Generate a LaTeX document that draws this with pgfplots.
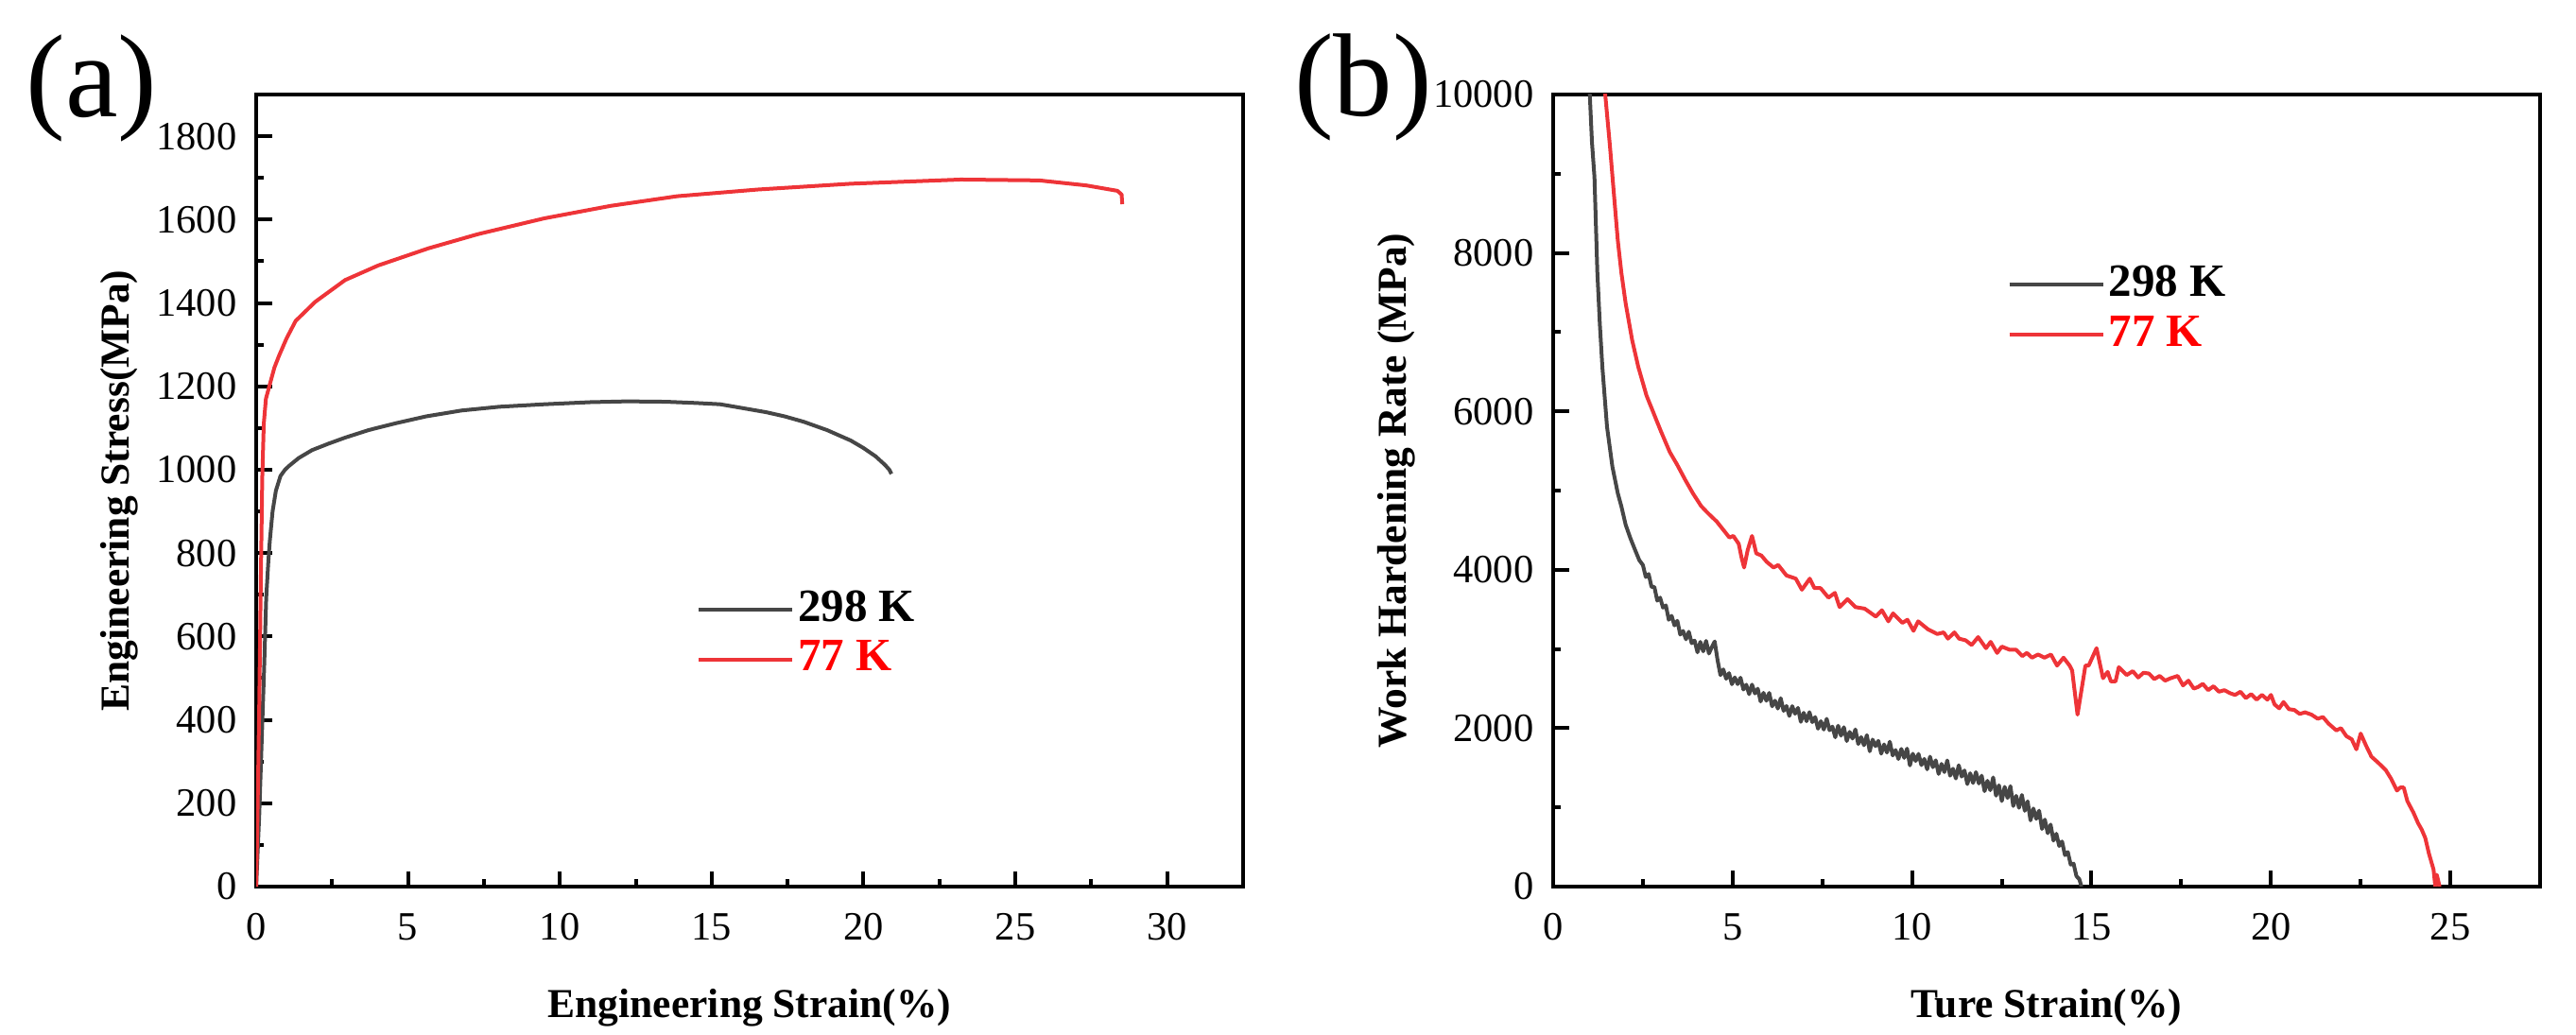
\documentclass[border=0pt]{standalone}
\usepackage{fontspec}
\setmainfont{Liberation Serif}
\usepackage{pgfplots}
\pgfplotsset{compat=1.18}
\definecolor{cgray}{RGB}{70,70,70}
\definecolor{cred}{RGB}{238,52,56}
\definecolor{tred}{RGB}{255,0,0}
\pgfplotsset{
  myaxis/.style={
    scale only axis, width=208.8pt, height=167.6pt,
    axis line style={line width=0.8pt},
    tick align=inside, xtick pos=bottom, ytick pos=left,
    major tick length=3.3pt, minor tick length=1.6pt,
    every tick/.style={black, line width=0.8pt},
    minor x tick num=1, minor y tick num=1,
    scaled ticks=false,
    tick label style={font=\fontsize{8.5}{10}\selectfont},
    /pgf/number format/assume math mode=true,
    /pgf/number format/1000 sep={},
    xticklabel style={yshift=-2.2pt},
    yticklabel style={xshift=-0.6pt},
    label style={font=\bfseries\fontsize{8.7}{10}\selectfont},
    xlabel style={yshift=-3.3pt},
    ylabel style={yshift=-3pt},
    legend style={draw=none, fill=none, font=\bfseries\fontsize{9.8}{11}\selectfont,
      inner sep=0pt, row sep=1pt, nodes={inner sep=0.8pt}},
    legend cell align=left,
    legend image code/.code={\draw[#1] (0pt,0pt) -- (19.8pt,0pt);},
    every axis plot/.append style={line width=0.8pt, line join=round},
  }
}
\begin{document}
\begin{tikzpicture}
\useasboundingbox (0,0) rectangle (545pt,219pt);
\node[font=\fontsize{25}{30}\selectfont, inner sep=0pt] at (19.4pt,200.3pt) {(a)};
\node[font=\fontsize{25}{30}\selectfont, inner sep=0pt] at (288.4pt,200.5pt) {(b)};
\begin{axis}[myaxis, at={(54.2pt,31.4pt)}, anchor=south west,
  xmin=0, xmax=32.5, ymin=0, ymax=1900,
  xtick distance=5, ytick distance=200,
  xlabel={Engineering Strain(\%)}, ylabel={Engineering Stress(MPa)},
  legend style={at={(rel axis cs:0.4454,0.3186)}, anchor=west}]
\addplot[cgray] coordinates {
(0,0) (0.1,170) (0.18,345) (0.26,520) (0.33,692) (0.4,780) (0.45,830) (0.54,900) (0.65,950) (0.8,985) (0.95,1000) (1.08,1009) (1.4,1028) (1.84,1047) (2.4,1063) (2.93,1077) (3.7,1095) (4.57,1111) (5.6,1128) (6.76,1142) (8,1151) (9.49,1157) (11,1162) (12.22,1164) (13.5,1163) (14.5,1160) (15.28,1157) (16,1148) (16.79,1138) (17.4,1128) (18.03,1115) (18.8,1095) (19.58,1070) (20.0,1052) (20.4,1032) (20.7,1012) (20.85,1000) (20.92,990)
};
\addlegendentry{298 K}
\addplot[cred] coordinates {
(0,0) (0.05,200) (0.1,430) (0.15,720) (0.2,980) (0.25,1110) (0.32,1170) (0.45,1205) (0.6,1245) (0.75,1273) (1.0,1315) (1.3,1357) (1.95,1403) (2.93,1455) (4.02,1490) (5.67,1531) (7.3,1565) (9.49,1603) (11.68,1633) (13.86,1656) (16.5,1672) (19.58,1686) (23.2,1696) (25.78,1694) (27.33,1682) (28.36,1669) (28.5,1660) (28.52,1637)
};
\addlegendentry{\textcolor{tred}{77 K}}
\end{axis}
\begin{axis}[myaxis, at={(328.6pt,31.4pt)}, anchor=south west,
  xmin=0, xmax=27.5, ymin=0, ymax=10000,
  xtick distance=5, ytick distance=2000,
  xlabel={Ture Strain(\%)}, ylabel={Work Hardening Rate (MPa)},
  legend style={at={(rel axis cs:0.4593,0.7285)}, anchor=west}]
\addplot[cgray] coordinates {
(0.98,10500) (1.02,10000) (1.08,9400) (1.15,8958) (1.23,7760) (1.30,7100) (1.37,6563) (1.50,5805) (1.65,5300) (1.80,4966) (1.90,4800) (2.02,4567) (2.15,4400) (2.30,4230) (2.40,4120)
(2.50,4060) (2.58,3908) (2.66,3946) (2.74,3784) (2.82,3782) (2.90,3610) (2.98,3648) (3.06,3522) (3.14,3550) (3.22,3369) (3.30,3418) (3.38,3297) (3.46,3356) (3.54,3182) (3.62,3227) (3.70,3122) (3.78,3217) (3.86,3072) (3.94,3106) (4.02,2958) (4.10,3089) (4.18,2970) (4.26,3102) (4.34,2943) (4.42,3024) (4.50,3095) (4.58,2860) (4.66,2670) (4.74,2742) (4.82,2624) (4.90,2695) (4.98,2555)
(5.06,2641) (5.14,2556) (5.22,2637) (5.30,2488) (5.38,2549) (5.46,2430) (5.54,2550) (5.62,2439) (5.70,2498) (5.78,2337) (5.86,2446) (5.94,2346) (6.02,2445) (6.10,2276) (6.18,2347) (6.26,2248) (6.34,2378) (6.42,2219) (6.50,2280) (6.58,2154) (6.66,2278) (6.74,2182) (6.82,2256) (6.90,2080) (6.98,2194)
(7.06,2088) (7.14,2202) (7.22,2076) (7.30,2140) (7.38,1994) (7.46,2088) (7.54,1983) (7.62,2118) (7.70,1974) (7.78,2020) (7.86,1885) (7.94,2031) (8.02,1906) (8.10,2012) (8.18,1838) (8.26,1953) (8.34,1869) (8.42,1984) (8.50,1800) (8.58,1887) (8.66,1784) (8.74,1912) (8.82,1709) (8.90,1856) (8.98,1773)
(9.06,1840) (9.14,1678) (9.22,1795) (9.30,1692) (9.38,1829) (9.46,1656) (9.54,1724) (9.62,1611) (9.70,1738) (9.78,1625) (9.86,1742) (9.94,1530) (10.02,1677) (10.10,1586) (10.18,1675) (10.26,1534) (10.34,1612) (10.42,1481) (10.50,1640) (10.58,1507) (10.66,1594) (10.74,1422) (10.82,1549) (10.90,1446) (10.98,1593)
(11.06,1400) (11.14,1488) (11.22,1365) (11.30,1532) (11.38,1389) (11.46,1466) (11.54,1294) (11.62,1431) (11.70,1308) (11.78,1445) (11.86,1302) (11.94,1400) (12.02,1205) (12.10,1336) (12.18,1217) (12.26,1378) (12.34,1148) (12.42,1279) (12.50,1080) (12.58,1259) (12.66,1118) (12.74,1268) (12.82,1017) (12.90,1146) (12.98,995)
(13.06,1157) (13.14,957) (13.22,1076) (13.30,836) (13.38,986) (13.46,855) (13.54,959) (13.62,728) (13.70,846) (13.78,674) (13.86,783) (13.94,581) (14.02,667) (14.10,513) (14.18,570) (14.26,397) (14.34,436) (14.42,278) (14.50,290) (14.58,132) (14.66,94) (14.72,0)
};
\addlegendentry{298 K}
\addplot[cred] coordinates {
(1.42,10500) (1.45,10000) (1.58,9357) (1.70,8700) (1.80,8160) (1.90,7750) (2.02,7361) (2.2,6900) (2.37,6563) (2.6,6200) (2.81,5964) (3.0,5750) (3.25,5485) (3.45,5330) (3.69,5126) (3.9,4960) (4.12,4806) (4.3,4720) (4.56,4607) (4.7,4527) (4.91,4407) (5.02,4427) (5.17,4327) (5.25,4150) (5.32,4028) (5.42,4250) (5.54,4427) (5.66,4207) (5.8,4180) (5.95,4100) (6.14,4028) (6.27,4060) (6.5,3928) (6.76,3888) (6.93,3748) (7.15,3888) (7.28,3768) (7.45,3768) (7.67,3648) (7.85,3708) (7.98,3529) (8.2,3629) (8.42,3529) (8.68,3509) (8.99,3409) (9.16,3489) (9.34,3349) (9.47,3449) (9.73,3329) (9.87,3369) (10.04,3229) (10.17,3349) (10.44,3249) (10.7,3189) (10.88,3209) (11.0,3130) (11.18,3209) (11.31,3130) (11.49,3110) (11.66,3050) (11.84,3150) (12.06,3010) (12.19,3090) (12.37,2950) (12.5,3030) (12.72,2990) (12.9,2990) (13.07,2910) (13.2,2950) (13.34,2890) (13.51,2930) (13.69,2890) (13.87,2930) (14.04,2790) (14.22,2890) (14.39,2790) (14.46,2730) (14.61,2171) (14.83,2790) (14.92,2790) (15.14,3010) (15.32,2631) (15.45,2711) (15.54,2591) (15.67,2591) (15.76,2770) (15.98,2671)
(16.15,2720) (16.3,2640) (16.45,2700) (16.6,2690) (16.75,2620) (16.9,2660) (17.05,2600) (17.2,2630) (17.4,2660) (17.55,2540) (17.7,2600) (17.85,2500) (17.97,2520) (18.1,2560) (18.25,2480) (18.4,2530) (18.55,2460) (18.7,2480) (18.87,2440) (19.0,2420) (19.15,2460) (19.3,2380) (19.45,2430) (19.6,2360) (19.75,2420) (19.9,2360) (20.0,2420) (20.1,2300) (20.23,2251) (20.35,2330) (20.5,2240) (20.65,2230) (20.8,2180) (20.95,2200) (21.13,2171) (21.3,2120) (21.45,2140) (21.6,2060) (21.82,1972) (21.95,2000) (22.1,1900) (22.25,1860) (22.38,1733) (22.5,1932) (22.65,1780) (22.8,1640) (22.95,1580) (23.06,1533) (23.2,1470) (23.35,1360) (23.51,1213) (23.6,1250) (23.7,1250) (23.8,1080) (23.97,934) (24.1,800) (24.2,720) (24.3,614) (24.4,420) (24.53,216) (24.58,0) (24.62,150) (24.7,0)
};
\addlegendentry{\textcolor{tred}{77 K}}
\end{axis}
\end{tikzpicture}
\end{document}
